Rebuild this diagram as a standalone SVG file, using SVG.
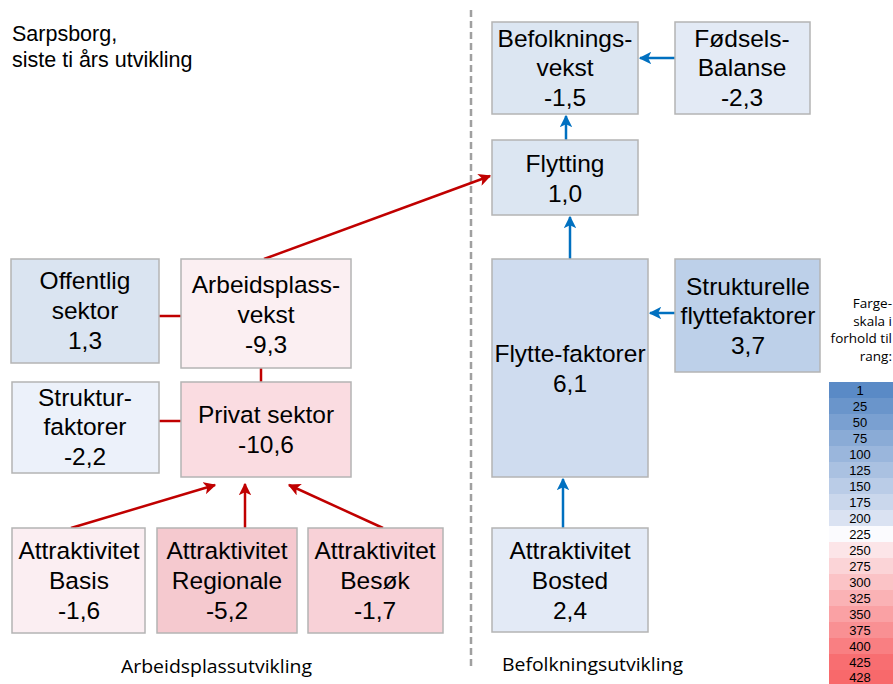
<svg xmlns="http://www.w3.org/2000/svg" width="893" height="684" viewBox="0 0 893 684">
<style>
.box{stroke:#b4b4b4;stroke-width:1.5}
.t{font-family:"Liberation Sans",Arial,sans-serif;font-size:24.5px;fill:#000;text-anchor:middle}
.c{font-family:"Open Sans","Liberation Sans",sans-serif;fill:#000}
.s{font-family:"Liberation Sans",Arial,sans-serif;font-size:13px;fill:#000;text-anchor:middle}
.red{stroke:#c00000;stroke-width:2.5;fill:none}
.blue{stroke:#0070c0;stroke-width:2.5;fill:none}
</style>
<defs>
<marker id="ar" viewBox="0 0 10 10" refX="9" refY="5" markerWidth="5" markerHeight="5" markerUnits="strokeWidth" orient="auto">
<path d="M0,0 L10,5 L0,10 L2.5,5 z" fill="#c00000"/>
</marker>
<marker id="ab" viewBox="0 0 10 10" refX="9" refY="5" markerWidth="5" markerHeight="5" markerUnits="strokeWidth" orient="auto">
<path d="M0,0 L10,5 L0,10 L2.5,5 z" fill="#0070c0"/>
</marker>
</defs>
<rect width="893" height="684" fill="#fff"/>
<g id="title">
<text x="12" y="41" font-family="Liberation Sans, Arial, sans-serif" font-size="21.5">Sarpsborg,</text>
<text x="12" y="67" font-family="Liberation Sans, Arial, sans-serif" font-size="21.5">siste ti års utvikling</text>
</g>
<line x1="471" y1="10" x2="471" y2="670" stroke="#a0a0a0" stroke-width="2.5" stroke-dasharray="7,4"/>
<g id="connectors">
<line class="red" x1="159" y1="316" x2="181" y2="316"/>
<line class="red" x1="159" y1="421" x2="181" y2="421"/>
<line class="red" x1="261" y1="368" x2="261" y2="382"/>
<line class="red" x1="264" y1="259" x2="490" y2="176" marker-end="url(#ar)"/>
<line class="red" x1="71" y1="528" x2="215" y2="485" marker-end="url(#ar)"/>
<line class="red" x1="245" y1="528" x2="245" y2="484" marker-end="url(#ar)"/>
<line class="red" x1="383" y1="528" x2="289" y2="485" marker-end="url(#ar)"/>
<line class="blue" x1="675" y1="58" x2="640" y2="58" marker-end="url(#ab)"/>
<line class="blue" x1="566" y1="140" x2="566" y2="116" marker-end="url(#ab)"/>
<line class="blue" x1="570" y1="259" x2="570" y2="217" marker-end="url(#ab)"/>
<line class="blue" x1="675" y1="313" x2="650" y2="313" marker-end="url(#ab)"/>
<line class="blue" x1="563" y1="528" x2="563" y2="479" marker-end="url(#ab)"/>
</g>
<g id="befolkningsvekst">
<rect class="box" x="492" y="22" width="146" height="92" fill="#dce6f2"/>
<text class="t" x="565" y="47">Befolknings-</text>
<text class="t" x="565" y="76">vekst</text>
<text class="t" x="565" y="106">-1,5</text>
</g>
<g id="fodselsbalanse">
<rect class="box" x="675" y="22" width="135" height="92" fill="#e3eaf5"/>
<text class="t" x="742" y="47">Fødsels-</text>
<text class="t" x="742" y="76">Balanse</text>
<text class="t" x="742" y="106">-2,3</text>
</g>
<g id="flytting">
<rect class="box" x="492" y="140" width="146" height="75" fill="#dce6f2"/>
<text class="t" x="565" y="172">Flytting</text>
<text class="t" x="565" y="202">1,0</text>
</g>
<g id="flyttefaktorer">
<rect class="box" x="492" y="259" width="156" height="218" fill="#cfdcef"/>
<text class="t" x="570" y="362">Flytte-faktorer</text>
<text class="t" x="570" y="392">6,1</text>
</g>
<g id="strukturelle">
<rect class="box" x="675" y="259" width="145" height="113" fill="#bdd0e9"/>
<text class="t" x="748" y="295">Strukturelle</text>
<text class="t" x="748" y="324">flyttefaktorer</text>
<text class="t" x="748" y="354">3,7</text>
</g>
<g id="bosted">
<rect class="box" x="492" y="528" width="156" height="104" fill="#e3eaf6"/>
<text class="t" x="570" y="559">Attraktivitet</text>
<text class="t" x="570" y="589">Bosted</text>
<text class="t" x="570" y="619">2,4</text>
</g>
<g id="offentlig">
<rect class="box" x="11" y="259" width="148" height="104" fill="#dae4f1"/>
<text class="t" x="85" y="289">Offentlig</text>
<text class="t" x="85" y="319">sektor</text>
<text class="t" x="85" y="349">1,3</text>
</g>
<g id="arbeidsplassvekst">
<rect class="box" x="181" y="259" width="170" height="109" fill="#fbeff2"/>
<text class="t" x="266" y="293">Arbeidsplass-</text>
<text class="t" x="266" y="323">vekst</text>
<text class="t" x="266" y="353">-9,3</text>
</g>
<g id="strukturfaktorer">
<rect class="box" x="12" y="382" width="147" height="91" fill="#ecf1fa"/>
<text class="t" x="85" y="406">Struktur-</text>
<text class="t" x="85" y="435">faktorer</text>
<text class="t" x="85" y="465">-2,2</text>
</g>
<g id="privat">
<rect class="box" x="181" y="382" width="170" height="95" fill="#fadce1"/>
<text class="t" x="266" y="423">Privat sektor</text>
<text class="t" x="266" y="453">-10,6</text>
</g>
<g id="basis">
<rect class="box" x="12" y="528" width="133" height="105" fill="#fbeef2"/>
<text class="t" x="79" y="559">Attraktivitet</text>
<text class="t" x="79" y="589">Basis</text>
<text class="t" x="79" y="619">-1,6</text>
</g>
<g id="regionale">
<rect class="box" x="157" y="528" width="140" height="105" fill="#f5c9cf"/>
<text class="t" x="227" y="559">Attraktivitet</text>
<text class="t" x="227" y="589">Regionale</text>
<text class="t" x="227" y="619">-5,2</text>
</g>
<g id="besok">
<rect class="box" x="308" y="528" width="135" height="105" fill="#f8d1d7"/>
<text class="t" x="375" y="559">Attraktivitet</text>
<text class="t" x="375" y="589">Besøk</text>
<text class="t" x="375" y="619">-1,7</text>
</g>
<g id="labels">
<text class="c" x="121" y="673" font-size="18" textLength="191" lengthAdjust="spacingAndGlyphs">Arbeidsplassutvikling</text>
<text class="c" x="502" y="671" font-size="18" textLength="181" lengthAdjust="spacingAndGlyphs">Befolkningsutvikling</text>
</g>
<g id="scale">
<text class="c" x="892" y="308" font-size="13.5" text-anchor="end">Farge-</text>
<text class="c" x="892" y="326" font-size="13.5" text-anchor="end">skala i</text>
<text class="c" x="892" y="343" font-size="13.5" text-anchor="end">forhold til</text>
<text class="c" x="892" y="361" font-size="13.5" text-anchor="end">rang:</text>
<rect x="829" y="382" width="64" height="16" fill="#5a8ac6"/>
<rect x="829" y="398" width="64" height="16" fill="#6a95cb"/>
<rect x="829" y="414" width="64" height="16" fill="#7aa0d1"/>
<rect x="829" y="430" width="64" height="16" fill="#8aabd6"/>
<rect x="829" y="446" width="64" height="16" fill="#9ab6dc"/>
<rect x="829" y="462" width="64" height="16" fill="#aac1e1"/>
<rect x="829" y="478" width="64" height="16" fill="#bacce7"/>
<rect x="829" y="494" width="64" height="16" fill="#cad7ec"/>
<rect x="829" y="510" width="64" height="16" fill="#dae2f2"/>
<rect x="829" y="526" width="64" height="16" fill="#fbfbfe"/>
<rect x="829" y="542" width="64" height="16" fill="#fce5e8"/>
<rect x="829" y="558" width="64" height="16" fill="#fbd4d7"/>
<rect x="829" y="574" width="64" height="16" fill="#fbc3c6"/>
<rect x="829" y="590" width="64" height="16" fill="#fab2b5"/>
<rect x="829" y="606" width="64" height="16" fill="#faa1a4"/>
<rect x="829" y="622" width="64" height="16" fill="#f99093"/>
<rect x="829" y="638" width="64" height="16" fill="#f97f82"/>
<rect x="829" y="654" width="64" height="16" fill="#f86e71"/>
<rect x="829" y="670" width="64" height="14" fill="#f8696b"/>
<text class="s" x="860" y="395">1</text>
<text class="s" x="860" y="411">25</text>
<text class="s" x="860" y="427">50</text>
<text class="s" x="860" y="443">75</text>
<text class="s" x="860" y="459">100</text>
<text class="s" x="860" y="475">125</text>
<text class="s" x="860" y="491">150</text>
<text class="s" x="860" y="507">175</text>
<text class="s" x="860" y="523">200</text>
<text class="s" x="860" y="539">225</text>
<text class="s" x="860" y="555">250</text>
<text class="s" x="860" y="571">275</text>
<text class="s" x="860" y="587">300</text>
<text class="s" x="860" y="603">325</text>
<text class="s" x="860" y="619">350</text>
<text class="s" x="860" y="635">375</text>
<text class="s" x="860" y="651">400</text>
<text class="s" x="860" y="667">425</text>
<text class="s" x="860" y="682">428</text>
</g>
</svg>
